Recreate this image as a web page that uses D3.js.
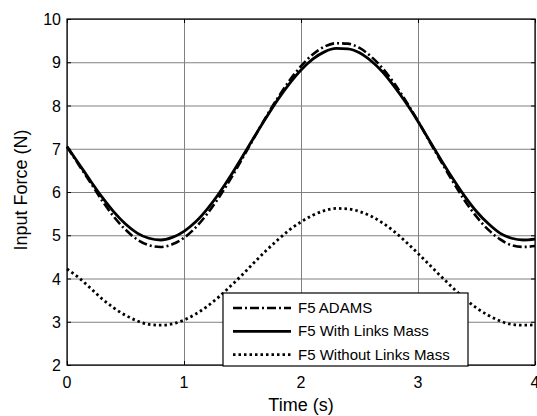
<!DOCTYPE html>
<html>
<head>
<meta charset="utf-8">
<script src="https://cdn.jsdelivr.net/npm/d3@7"></script>
<style>
  body { margin: 0; background: #fff; }
  svg text { font-family: Arial, "Liberation Sans", sans-serif; fill: #000; }
</style>
</head>
<body>
<svg id="chart" width="537" height="416"></svg>
<script>
"use strict";

// time samples (s)
const time = [0.0,0.1,0.2,0.3,0.4,0.5,0.6,0.7,0.8,0.9,1.0,1.1,1.2,1.3,1.4,1.5,1.6,1.7,1.8,1.9,
              2.0,2.1,2.2,2.3,2.4,2.5,2.6,2.7,2.8,2.9,3.0,3.1,3.2,3.3,3.4,3.5,3.6,3.7,3.8,3.9,4.0];

// F5 ADAMS
const f5Adams = [7.05,6.63,6.22,5.80,5.43,5.13,4.90,4.77,4.73,4.79,4.94,5.18,5.50,5.88,6.31,6.78,7.26,7.73,8.17,8.57,
                 8.91,9.18,9.36,9.44,9.43,9.33,9.13,8.85,8.50,8.09,7.64,7.16,6.69,6.23,5.80,5.43,5.13,4.91,4.77,4.73,4.75];

// F5 With Links Mass
const f5WithMass = [7.05,6.66,6.26,5.88,5.54,5.26,5.05,4.93,4.89,4.95,5.09,5.31,5.61,5.97,6.38,6.82,7.27,7.71,8.13,8.50,
                    8.82,9.07,9.24,9.32,9.31,9.22,9.03,8.77,8.43,8.05,7.63,7.18,6.73,6.30,5.90,5.55,5.27,5.05,4.93,4.89,4.91];

// F5 Without Links Mass
const f5WithoutMass = [4.22,4.02,3.78,3.53,3.32,3.15,3.02,2.94,2.92,2.95,3.04,3.18,3.36,3.58,3.83,4.09,4.37,4.64,4.89,5.12,
                       5.31,5.46,5.57,5.62,5.61,5.55,5.44,5.28,5.08,4.84,4.58,4.31,4.04,3.78,3.53,3.32,3.15,3.02,2.94,2.92,2.93];

const xTicks = [0, 1, 2, 3, 4];
const yTicks = [2, 3, 4, 5, 6, 7, 8, 9, 10];

const legendLabels = ["F5 ADAMS", "F5 With Links Mass", "F5 Without Links Mass"];

const margin = {top: 19, right: 2, bottom: 51, left: 67};
const width = 537 - margin.left - margin.right;
const height = 416 - margin.top - margin.bottom;

const svg = d3.select("#chart");
const chart = svg.append("g").attr("transform", `translate(${margin.left},${margin.top})`);

const scaleX = d3.scaleLinear().domain([0, 4]).range([0, width]);
const scaleY = d3.scaleLinear().domain([2, 10]).range([height, 0]);

// grid
chart.append("g")
    .attr("class", "grid")
    .attr("transform", `translate(0,${height})`)
    .call(d3.axisBottom(scaleX).tickValues(xTicks).tickSize(-height).tickFormat(""))
    .call(g => g.select(".domain").remove());
chart.append("g")
    .attr("class", "grid")
    .call(d3.axisLeft(scaleY).tickValues(yTicks).tickSize(-width).tickFormat(""))
    .call(g => g.select(".domain").remove());
chart.selectAll("g.grid line")
    .attr("stroke", "#808080")
    .attr("stroke-width", 1);

// box
chart.append("rect")
    .attr("x", 0).attr("y", 0)
    .attr("width", width).attr("height", height)
    .attr("fill", "none")
    .attr("stroke", "#000")
    .attr("stroke-width", 1.2);

// inward ticks
const tickLen = 4;
chart.append("g").call(d3.axisBottom(scaleX).tickValues(xTicks).tickSizeInner(-tickLen).tickSizeOuter(0).tickFormat(""))
    .attr("transform", `translate(0,${height})`).call(g => g.select(".domain").remove());
chart.append("g").call(d3.axisTop(scaleX).tickValues(xTicks).tickSizeInner(-tickLen).tickSizeOuter(0).tickFormat(""))
    .call(g => g.select(".domain").remove());
chart.append("g").call(d3.axisLeft(scaleY).tickValues(yTicks).tickSizeInner(-tickLen).tickSizeOuter(0).tickFormat(""))
    .call(g => g.select(".domain").remove());
chart.append("g").call(d3.axisRight(scaleY).tickValues(yTicks).tickSizeInner(-tickLen).tickSizeOuter(0).tickFormat(""))
    .attr("transform", `translate(${width},0)`).call(g => g.select(".domain").remove());

// tick labels (the last x label sits at the window edge, as in the original)
chart.selectAll("text.xlab")
    .data(xTicks).enter().append("text")
    .attr("class", "xlab")
    .attr("x", d => scaleX(d))
    .attr("y", height + 23)
    .attr("text-anchor", "middle")
    .style("font-size", "16px")
    .text(d => d);
chart.selectAll("text.ylab")
    .data(yTicks).enter().append("text")
    .attr("class", "ylab")
    .attr("x", -6)
    .attr("y", d => scaleY(d) + 6)
    .attr("text-anchor", "end")
    .style("font-size", "16px")
    .text(d => d);

// axis titles
svg.append("text")
    .attr("x", margin.left + width / 2)
    .attr("y", 411)
    .attr("text-anchor", "middle")
    .style("font-size", "18px")
    .text("Time (s)");
svg.append("text")
    .attr("transform", `translate(27,190) rotate(-90)`)
    .attr("text-anchor", "middle")
    .style("font-size", "18px")
    .text("Input Force (N)");

// lines
const styles = [
    {data: f5Adams, dash: "9,3,2,3", width: 2.6},
    {data: f5WithMass, dash: null, width: 2.8},
    {data: f5WithoutMass, dash: "2.5,3", width: 2.8}
];
const line = d3.line()
    .x(d => scaleX(d[0]))
    .y(d => scaleY(d[1]))
    .curve(d3.curveMonotoneX);

styles.forEach(s => {
    chart.append("path")
        .datum(time.map((t, i) => [t, s.data[i]]))
        .attr("fill", "none")
        .attr("stroke", "#000")
        .attr("stroke-width", s.width)
        .attr("stroke-dasharray", s.dash)
        .attr("d", line);
});

// legend
const legend = svg.append("g").attr("transform", "translate(223,293)");
legend.append("rect")
    .attr("width", 245).attr("height", 73)
    .attr("fill", "#fff")
    .attr("stroke", "#000")
    .attr("stroke-width", 1.2);
legendLabels.forEach((lab, i) => {
    const y = 15 + i * 23.3;
    legend.append("line")
        .attr("x1", 10).attr("x2", 68)
        .attr("y1", y).attr("y2", y)
        .attr("stroke", "#000")
        .attr("stroke-width", styles[i].width)
        .attr("stroke-dasharray", styles[i].dash);
    legend.append("text")
        .attr("x", 75)
        .attr("y", y + 5)
        .style("font-size", "15px")
        .text(lab);
});
</script>
</body>
</html>
